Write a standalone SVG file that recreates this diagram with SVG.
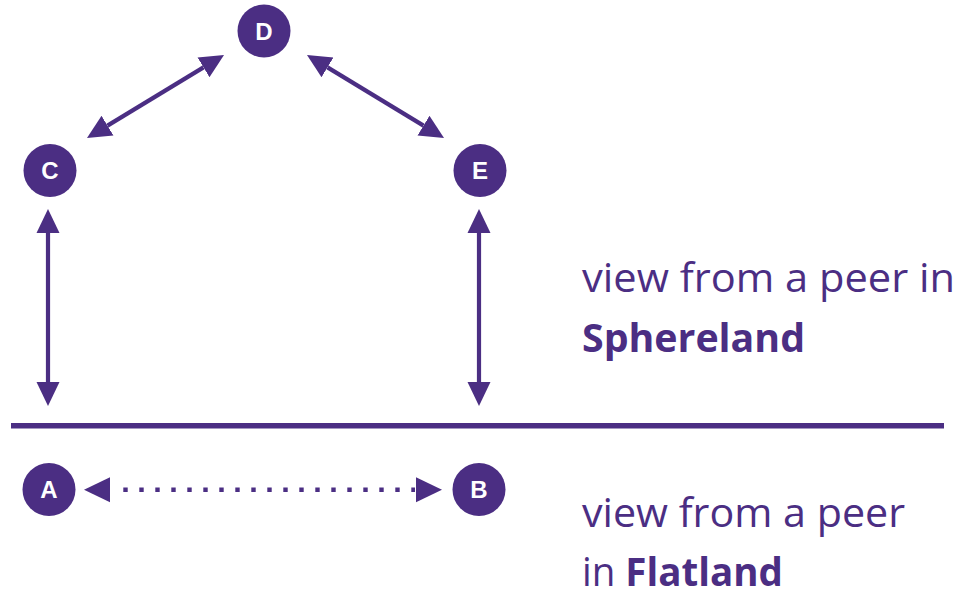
<svg xmlns="http://www.w3.org/2000/svg" width="963" height="594" viewBox="0 0 963 594">
<style>
.node circle{fill:#4b2e83}
.node text{fill:#fff;font-family:"Liberation Sans",Arial,sans-serif;font-weight:bold;font-size:24px;text-anchor:middle}
.conn{stroke:#4b2e83;stroke-width:4.2;fill:none}
.dot{stroke-width:4.6;stroke-dasharray:4.4 11.6}
.lbl{fill:#4b2e83;font-family:"Open Sans","Noto Sans",sans-serif;font-size:40px}
.b{font-weight:bold}
</style>
<defs>
<marker id="ah" markerUnits="userSpaceOnUse" markerWidth="26" markerHeight="26" viewBox="0 -13 26 26" refX="0" refY="0" orient="auto-start-reverse">
<path d="M0,-11.5 L24,0 L0,11.5 z" fill="#4b2e83"/>
</marker>
<marker id="ah2" markerUnits="userSpaceOnUse" markerWidth="28" markerHeight="28" viewBox="0 -14 28 28" refX="0" refY="0" orient="auto-start-reverse">
<path d="M0,-12.5 L26,0 L0,12.5 z" fill="#4b2e83"/>
</marker>
</defs>
<g id="connectors">
<line class="conn" x1="107.5" y1="125.6" x2="203.5" y2="67.4" marker-start="url(#ah)" marker-end="url(#ah)"/>
<line class="conn" x1="327.5" y1="67.4" x2="423.5" y2="125.6" marker-start="url(#ah)" marker-end="url(#ah)"/>
<line class="conn" x1="48" y1="233" x2="48" y2="382" marker-start="url(#ah)" marker-end="url(#ah)"/>
<line class="conn" x1="479" y1="233" x2="479" y2="382" marker-start="url(#ah)" marker-end="url(#ah)"/>
<path d="M110,489.7 L112,489.7" class="conn" stroke-opacity="0" marker-start="url(#ah2)"/>
<path d="M414,489.7 L416,489.7" class="conn" stroke-opacity="0" marker-end="url(#ah2)"/>
<line class="conn dot" x1="123.3" y1="489.7" x2="415" y2="489.7"/>
</g>
<line id="separator" x1="11" y1="425.8" x2="944" y2="425.8" stroke="#4b2e83" stroke-width="5.5"/>
<g id="D" class="node"><circle cx="264" cy="31" r="26.5"/><text x="264" y="39.5">D</text></g>
<g id="C" class="node"><circle cx="50" cy="170.5" r="26.5"/><text x="50" y="179">C</text></g>
<g id="E" class="node"><circle cx="480" cy="170.5" r="26.5"/><text x="480" y="179">E</text></g>
<g id="A" class="node"><circle cx="49" cy="489.5" r="26.5"/><text x="49" y="498">A</text></g>
<g id="B" class="node"><circle cx="479" cy="489.5" r="26.5"/><text x="479" y="498">B</text></g>
<g id="labels">
<text class="lbl" x="582" y="292" textLength="373" lengthAdjust="spacingAndGlyphs">view from a peer in</text>
<text class="lbl b" x="582" y="352" textLength="223" lengthAdjust="spacingAndGlyphs">Sphereland</text>
<text class="lbl" x="582" y="527" textLength="323" lengthAdjust="spacingAndGlyphs">view from a peer</text>
<text class="lbl" x="582" y="586" textLength="201" lengthAdjust="spacingAndGlyphs">in <tspan class="b">Flatland</tspan></text>
</g>
</svg>
